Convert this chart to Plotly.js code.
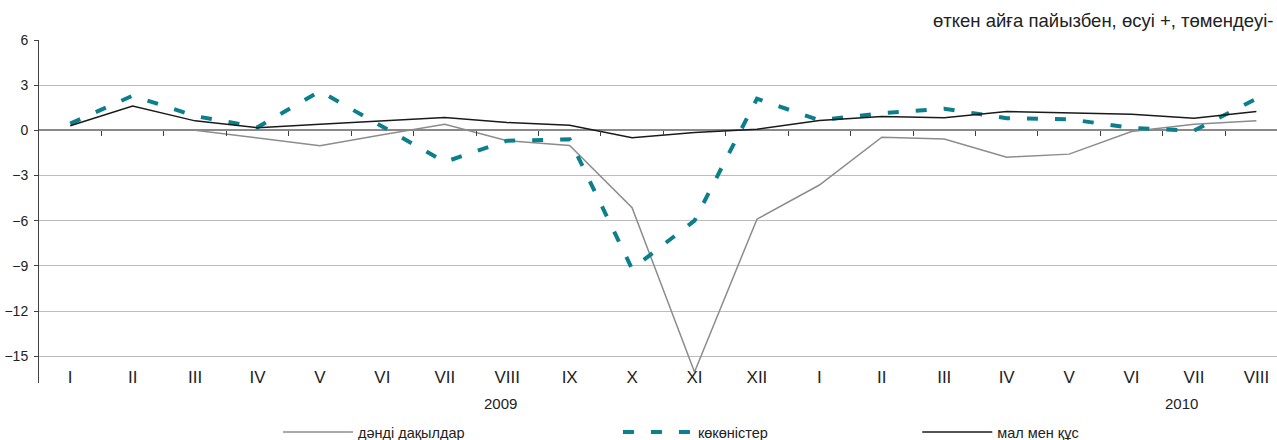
<!DOCTYPE html>
<html>
<head>
<meta charset="utf-8">
<script src="https://cdn.plot.ly/plotly-3.0.1.min.js"></script>
<style>
html,body{margin:0;padding:0;background:#fff;}
#chart{width:1277px;height:440px;}
</style>
</head>
<body>
<div id="chart"></div>
<script>
// Month labels (2009: I..XII, 2010: I..VIII)
var months = ['I','II','III','IV','V','VI','VII','VIII','IX','X','XI','XII','I','II','III','IV','V','VI','VII','VIII'];
var years = ['2009','2010'];
var yearPos = [6.9, 17.8];

// Series values, % change to previous month
var grain = [null, null, 0.0, -0.53, -1.02, -0.3, 0.41, -0.69, -1.0, -5.14, -16.05, -5.9, -3.63, -0.46, -0.57, -1.78, -1.58, -0.08, 0.40, 0.63];
var veg   = [0.45, 2.3, 0.95, 0.2, 2.6, 0.25, -2.1, -0.69, -0.6, -9.2, -6.0, 2.1, 0.67, 1.14, 1.43, 0.81, 0.74, 0.16, -0.02, 2.1];
var meat  = [0.31, 1.61, 0.63, 0.18, 0.41, 0.65, 0.85, 0.52, 0.34, -0.49, -0.15, 0.08, 0.65, 0.92, 0.83, 1.25, 1.18, 1.07, 0.81, 1.25];

var names = ['дәнді дақылдар', 'көкөністер', 'мал мен құс'];
var unitText = 'өткен айға пайызбен, өсуі +, төмендеуі-';
var yTicks = [-15, -12, -9, -6, -3, 0, 3, 6];

var idx = months.map(function(_, i){ return i; });
var bounds = idx.slice(0, -1).map(function(i){ return i + 0.5; });

var yMin = -16.78, yMax = 6;
var xRange = [-0.5, 19.33];
var zeroPos = (0 - yMin) / (yMax - yMin);

var F = 'Liberation Sans, Arial, sans-serif';
var FN = 'Liberation Sans Narrow, Liberation Sans, Arial, sans-serif';

var traces = [
  {x: idx, y: grain, name: names[0], mode: 'lines', line: {color: '#8c8c8c', width: 1.5}, legend: 'legend', hoverinfo: 'skip'},
  {x: idx, y: veg, name: names[1], mode: 'lines', line: {color: '#0b7f8b', width: 4, dash: '11px,17px'}, legend: 'legend2', hoverinfo: 'skip'},
  {x: idx, y: meat, name: names[2], mode: 'lines', line: {color: '#1a1a1a', width: 1.5}, legend: 'legend3', hoverinfo: 'skip'},
  {x: [0], y: [0], xaxis: 'x2', mode: 'lines', line: {width: 0}, showlegend: false, hoverinfo: 'skip'}
];

function leg(x){
  return {x: x, y: 0.018, xref: 'container', yref: 'container', xanchor: 'left', yanchor: 'middle',
          orientation: 'h', itemwidth: 70, bgcolor: 'rgba(0,0,0,0)', font: {family: F, size: 14.5, color: '#222'}};
}

var annotations = years.map(function(t, i){
  return {text: t, x: yearPos[i], xref: 'x', y: -0.061, yref: 'paper', xanchor: 'center', yanchor: 'middle',
          showarrow: false, font: {family: F, size: 15, color: '#222'}};
});
annotations.push({text: unitText, x: 1, xref: 'paper', xshift: -2, y: 1.058, yref: 'paper',
  xanchor: 'right', yanchor: 'middle', showarrow: false, font: {family: F, size: 18.5, color: '#222'}});

var layout = {
  width: 1277, height: 440,
  margin: {l: 39, r: 0, t: 40, b: 57},
  paper_bgcolor: '#fff', plot_bgcolor: '#fff',
  showlegend: true,
  legend: leg(0.2177),
  legend2: leg(0.4839),
  legend3: leg(0.7183),
  xaxis: {
    range: xRange, tickmode: 'array', tickvals: idx, ticktext: months,
    ticks: '', showgrid: false, zeroline: false, showline: false,
    ticklabelposition: 'inside', ticklabelstandoff: -6,
    tickfont: {family: FN, size: 17, color: '#222'}
  },
  xaxis2: {
    overlaying: 'x', anchor: 'free', position: zeroPos, side: 'bottom',
    range: xRange, tickmode: 'array', tickvals: bounds,
    ticks: 'outside', ticklen: 5, tickcolor: '#404040', tickwidth: 1,
    showticklabels: false, showgrid: false, zeroline: false, showline: false
  },
  yaxis: {
    range: [yMin, yMax], tickmode: 'array', tickvals: yTicks,
    showgrid: true, gridcolor: '#bdbdbd', gridwidth: 1,
    zeroline: true, zerolinecolor: '#8a8a8a', zerolinewidth: 2,
    showline: true, linecolor: '#404040', linewidth: 1,
    ticks: 'outside', ticklen: 4, tickcolor: '#404040',
    ticklabelstandoff: 3,
    tickfont: {family: F, size: 14, color: '#222'}
  },
  annotations: annotations
};

Plotly.newPlot('chart', traces, layout, {staticPlot: true, displayModeBar: false});
</script>
</body>
</html>
